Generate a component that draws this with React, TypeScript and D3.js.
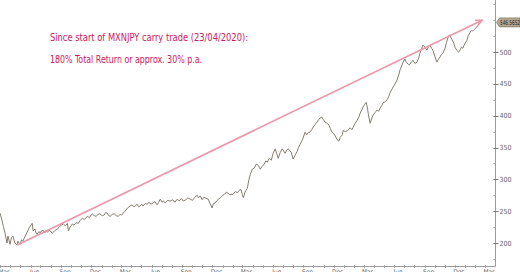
import React from "react";
import * as d3 from "d3";

const dates: string[] = [
  "2020-03-01","2020-03-06","2020-03-11","2020-03-16","2020-03-22","2020-03-25","2020-03-31","2020-04-05","2020-04-09","2020-04-15",
  "2020-04-21","2020-04-24","2020-04-30","2020-05-05","2020-05-09","2020-05-15","2020-05-21","2020-05-28","2020-06-06","2020-06-09",
  "2020-06-14","2020-06-18","2020-06-21","2020-06-26","2020-06-30","2020-07-04","2020-07-09","2020-07-14","2020-07-18","2020-07-22",
  "2020-07-27","2020-07-31","2020-08-05","2020-08-09","2020-08-14","2020-08-21","2020-08-27","2020-09-02","2020-09-08","2020-09-14",
  "2020-09-20","2020-09-23","2020-09-28","2020-10-05","2020-10-10","2020-10-16","2020-10-23","2020-10-28","2020-11-04","2020-11-10",
  "2020-11-19","2020-11-25","2020-12-04","2020-12-10","2020-12-16","2020-12-21","2020-12-27","2021-01-03","2021-01-09","2021-01-13",
  "2021-01-18","2021-01-22","2021-01-27","2021-02-02","2021-02-08","2021-02-14","2021-02-20","2021-02-26","2021-03-03","2021-03-07",
  "2021-03-12","2021-03-16","2021-03-22","2021-03-28","2021-04-03","2021-04-08","2021-04-12","2021-04-18","2021-04-23","2021-04-27",
  "2021-05-02","2021-05-06","2021-05-12","2021-05-18","2021-05-24","2021-05-30","2021-06-05","2021-06-11","2021-06-17","2021-06-22",
  "2021-06-27","2021-07-02","2021-07-06","2021-07-12","2021-07-18","2021-07-27","2021-08-03","2021-08-10","2021-08-17","2021-08-23",
  "2021-08-29","2021-09-04","2021-09-12","2021-09-18","2021-09-25","2021-10-02","2021-10-09","2021-10-16","2021-10-20","2021-10-25",
  "2021-10-31","2021-11-05","2021-11-12","2021-11-18","2021-11-24","2021-11-30","2021-12-04","2021-12-09","2021-12-15","2021-12-20",
  "2021-12-25","2022-01-01","2022-01-07","2022-01-12","2022-01-17","2022-01-23","2022-02-02","2022-02-08","2022-02-14","2022-02-20",
  "2022-02-25","2022-03-01","2022-03-04","2022-03-09","2022-03-16","2022-03-21","2022-03-25","2022-03-31","2022-04-06","2022-04-12",
  "2022-04-18","2022-04-24","2022-04-29","2022-05-06","2022-05-11","2022-05-15","2022-05-21","2022-05-27","2022-06-02","2022-06-08",
  "2022-06-13","2022-06-17","2022-06-23","2022-06-29","2022-07-04","2022-07-08","2022-07-13","2022-07-17","2022-07-22","2022-07-26",
  "2022-08-01","2022-08-07","2022-08-13","2022-08-17","2022-08-22","2022-08-27","2022-08-31","2022-09-06","2022-09-11","2022-09-16",
  "2022-09-21","2022-09-26","2022-09-30","2022-10-06","2022-10-12","2022-10-17","2022-10-21","2022-10-26","2022-10-31","2022-11-05",
  "2022-11-12","2022-11-17","2022-11-21","2022-11-26","2022-11-30","2022-12-06","2022-12-12","2022-12-17","2022-12-21","2022-12-27",
  "2022-12-30","2023-01-05","2023-01-11","2023-01-16","2023-01-20","2023-01-25","2023-01-29","2023-02-04","2023-02-10","2023-02-15",
  "2023-02-19","2023-02-24","2023-02-28","2023-03-05","2023-03-09","2023-03-13","2023-03-15","2023-03-21","2023-03-26","2023-03-30",
  "2023-04-05","2023-04-11","2023-04-16","2023-04-20","2023-04-25","2023-04-29","2023-05-05","2023-05-11","2023-05-16","2023-05-20",
  "2023-05-25","2023-05-29","2023-06-04","2023-06-10","2023-06-15","2023-06-19","2023-06-24","2023-06-28","2023-07-04","2023-07-07",
  "2023-07-10","2023-07-15","2023-07-19","2023-07-24","2023-07-28","2023-08-03","2023-08-09","2023-08-14","2023-08-18","2023-08-23",
  "2023-08-27","2023-09-02","2023-09-08","2023-09-12","2023-09-17","2023-09-22","2023-09-26","2023-10-02","2023-10-08","2023-10-12",
  "2023-10-17","2023-10-22","2023-10-26","2023-11-01","2023-11-06","2023-11-10","2023-11-15","2023-11-22","2023-11-28","2023-12-02",
  "2023-12-07","2023-12-12","2023-12-16","2023-12-21","2023-12-25","2024-01-01","2024-01-06","2024-01-11","2024-01-15","2024-01-20",
  "2024-01-24","2024-01-30","2024-02-05","2024-02-10","2024-02-14"
];

const values: number[] = [
  247,238,226,216,200,211,198,209,211,200,
  197,203,198,205,203,210,216,224,231,219,
  222,215,214,218,216,219,220,216,219,217,
  220,219,215,217,220,222,226,228,230,227,
  231,219,225,230,228,232,231,235,239,237,
  242,240,246,243,242,245,246,243,244,248,
  247,243,242,245,246,243,242,245,244,247,
  250,252,256,258,260,257,258,261,257,258,
  261,258,262,261,264,261,263,265,260,264,
  269,264,266,263,267,266,268,264,269,266,
  270,266,268,271,269,267,272,275,271,274,
  268,272,270,269,262,255,262,263,267,269,
  271,275,277,280,278,276,277,281,279,283,
  284,276,271,280,286,300,308,316,318,324,
  322,316,320,324,329,327,333,330,341,348,
  340,333,342,348,344,341,346,348,345,343,
  332,338,344,350,355,360,365,374,370,374,
  374,378,382,386,390,394,396,398,394,390,
  388,385,380,374,373,368,362,360,366,370,
  377,375,376,379,381,378,382,388,393,398,
  404,409,414,418,421,412,404,388,396,401,
  405,409,407,412,416,420,422,425,430,436,
  441,445,450,456,464,472,478,484,489,485,
  483,480,481,485,487,482,484,490,498,505,
  511,508,503,507,511,506,503,493,484,488,
  492,496,498,505,515,522,527,520,514,507,
  503,500,502,508,506,514,518,526,530,534,
  533,536,539,543,546.5652
];

const arrowDates: string[] = ["2020-04-22", "2024-02-21"];
const arrowValues: number[] = [197, 550];

const yTicks: number[] = [200, 250, 300, 350, 400, 450, 500];
const yMinorTicks: number[] = [175, 225, 275, 325, 375, 425, 475, 525, 550, 575];
const lastLabel = "546.5652";
const note1 = "Since start of MXNJPY carry trade (23/04/2020):";
const note2 = "180% Total Return or approx. 30% p.a.";

export default function App() {
  const W = 520, H = 272;
  const parse = d3.timeParse("%Y-%m-%d");
  const x = d3.scaleTime()
    .domain([new Date(2020, 2, 1), new Date(2024, 2, 1)])
    .range([0, 485]);
  const y = d3.scaleLinear().domain([160, 580]).range([268.5, 1.1]);
  const axisX = 495.5;
  const axisY = 266.5;

  const pts = dates.map((d, i) => ({ d: parse(d) as Date, v: values[i] }));
  const line = d3.line<{ d: Date; v: number }>()
    .x((p) => x(p.d))
    .y((p) => y(p.v));

  const a0 = { x: x(parse(arrowDates[0]) as Date), y: y(arrowValues[0]) };
  const a1 = { x: x(parse(arrowDates[1]) as Date), y: y(arrowValues[1]) };
  const ang = Math.atan2(a1.y - a0.y, a1.x - a0.x);
  const hl = 7, ha = 0.45;
  const h1 = { x: a1.x - hl * Math.cos(ang - ha), y: a1.y - hl * Math.sin(ang - ha) };
  const h2 = { x: a1.x - hl * Math.cos(ang + ha), y: a1.y - hl * Math.sin(ang + ha) };

  const months = x.ticks(d3.timeMonth.every(1) as any);
  const quarterLabels = months.filter((m) => m.getMonth() % 3 === 2);
  const fmt = d3.timeFormat("%b");

  const lastY = y(values[values.length - 1]);

  return (
    <svg
      width={W}
      height={H}
      style={{ position: "absolute", left: 0, top: 0, background: "#fff" }}
      fontFamily="'DejaVu Sans Condensed', 'DejaVu Sans', sans-serif"
    >
      <rect width={W} height={H} fill="#fff" />
      {/* bottom axis */}
      <line x1={0} x2={axisX} y1={axisY} y2={axisY} stroke="#9a9a9a" strokeWidth={1} />
      {months.map((m, i) => (
        <line key={"mt" + i} x1={Math.round(x(m)) + 0.5} x2={Math.round(x(m)) + 0.5} y1={axisY - 1.5} y2={axisY + 1.5} stroke="#9a9a9a" strokeWidth={0.8} />
      ))}
      {quarterLabels.map((m, i) => (
        <text key={"ql" + i} x={x(m) + 4} y={274} fontSize={6.5} fill="#666" textAnchor="middle">
          {fmt(m)}
        </text>
      ))}
      {/* right axis */}
      <line x1={axisX} x2={axisX} y1={0} y2={axisY} stroke="#9a9a9a" strokeWidth={1} />
      {yMinorTicks.map((t) => (
        <line key={"yn" + t} x1={axisX - 2} x2={axisX} y1={Math.round(y(t)) + 0.5} y2={Math.round(y(t)) + 0.5} stroke="#9a9a9a" strokeWidth={0.8} />
      ))}
      {yTicks.map((t) => (
        <g key={"yt" + t}>
          <line x1={axisX - 2} x2={axisX + 3} y1={Math.round(y(t)) + 0.5} y2={Math.round(y(t)) + 0.5} stroke="#777" strokeWidth={1} />
          <text x={axisX + 4} y={y(t) + 2.5} fontSize={7} fill="#666">{t}</text>
        </g>
      ))}
      {/* price line */}
      <path d={line(pts) || ""} fill="none" stroke="#857d6f" strokeWidth={1} strokeLinejoin="round" />
      {/* arrow */}
      <line x1={a0.x} y1={a0.y} x2={a1.x} y2={a1.y} stroke="#ec97aa" strokeWidth={1.6} />
      <polyline points={`${h1.x},${h1.y} ${a1.x},${a1.y} ${h2.x},${h2.y}`} fill="none" stroke="#ec97aa" strokeWidth={1.6} />
      {/* last price tag */}
      <path
        d={`M${axisX + 1},${lastY} L${axisX + 4},${lastY - 4.5} L${W},${lastY - 4.5} L${W},${lastY + 4.5} L${axisX + 4},${lastY + 4.5} Z`}
        fill="#b3a792"
        stroke="#6e6454"
        strokeWidth={0.6}
      />
      <text x={axisX + 4.5} y={lastY + 2.4} fontSize={6.6} fill="#222" textLength={20} lengthAdjust="spacingAndGlyphs">{lastLabel}</text>
      {/* annotations */}
      <text x={50} y={41} fontSize={10} fill="#d0185a" textLength={198} lengthAdjust="spacingAndGlyphs">{note1}</text>
      <text x={50} y={62.5} fontSize={10} fill="#d0185a" textLength={152} lengthAdjust="spacingAndGlyphs">{note2}</text>
    </svg>
  );
}
